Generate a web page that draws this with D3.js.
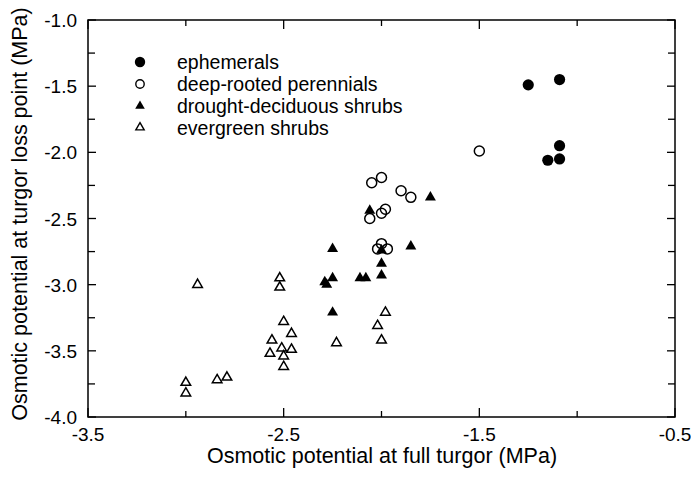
<!DOCTYPE html>
<html>
<head>
<meta charset="utf-8">
<script src="https://cdn.jsdelivr.net/npm/d3@7"></script>
<style>
  body { margin: 0; background: #fff; }
  text { font-family: "Liberation Sans", Arial, sans-serif; fill: #000; }
</style>
</head>
<body>
<div id="chart"></div>
<script>
// Series data (MPa): osmotic potential at full turgor (x) vs at turgor loss point (y)
const ephemeralsX = [-1.25, -1.09, -1.09, -1.09, -1.15];
const ephemeralsY = [-1.49, -1.45, -1.95, -2.05, -2.06];

const deepRootedX = [-1.50, -2.05, -2.00, -1.90, -1.85, -2.06, -2.00, -1.98, -2.00, -2.02, -1.97];
const deepRootedY = [-1.99, -2.23, -2.19, -2.29, -2.34, -2.50, -2.46, -2.43, -2.69, -2.73, -2.73];

const deciduousX = [-1.75, -2.06, -2.25, -2.00, -1.85, -2.00, -2.00, -2.11, -2.08, -2.29, -2.25, -2.28, -2.25];
const deciduousY = [-2.34, -2.44, -2.73, -2.74, -2.71, -2.84, -2.93, -2.95, -2.95, -2.98, -2.95, -3.00, -3.21];

const evergreenX = [-2.52, -2.52, -2.50, -2.46, -2.56, -2.51, -2.46, -2.57, -2.50, -2.50, -2.23, -1.98, -2.02, -2.00, -2.94, -3.00, -3.00, -2.84, -2.79];
const evergreenY = [-2.95, -3.02, -3.28, -3.37, -3.42, -3.48, -3.49, -3.52, -3.54, -3.62, -3.44, -3.21, -3.31, -3.42, -3.00, -3.74, -3.82, -3.72, -3.70];

const seriesNames = ["ephemerals", "deep-rooted perennials", "drought-deciduous shrubs", "evergreen shrubs"];

const xTicks = [-3.5, -3.0, -2.5, -2.0, -1.5, -1.0, -0.5];
const xLabels = [-3.5, -2.5, -1.5, -0.5];
const yTicks = d3.range(-4.0, -0.99, 0.25);
const yLabels = [-4.0, -3.5, -3.0, -2.5, -2.0, -1.5, -1.0];

const width = 691, height = 479;
const margin = { top: 20, right: 16, bottom: 62, left: 88 };
const innerW = width - margin.left - margin.right;
const innerH = height - margin.top - margin.bottom;

const svg = d3.select("#chart").append("svg")
    .attr("width", width)
    .attr("height", height);

const g = svg.append("g")
    .attr("transform", `translate(${margin.left},${margin.top})`);

const x = d3.scaleLinear().domain([-3.5, -0.5]).range([0, innerW]);
const y = d3.scaleLinear().domain([-4.0, -1.0]).range([innerH, 0]);

const isLabelX = v => xLabels.some(l => Math.abs(l - v) < 1e-6);
const isLabelY = v => yLabels.some(l => Math.abs(l - v) < 1e-6);

// Frame
g.append("rect")
    .attr("width", innerW)
    .attr("height", innerH)
    .attr("fill", "none")
    .attr("stroke", "#000")
    .attr("stroke-width", 1.5);

// Inward ticks on all four sides
const ticks = g.append("g").attr("stroke", "#000").attr("stroke-width", 1.3);
xTicks.forEach(v => {
    const len = isLabelX(v) ? 9 : 6;
    ticks.append("line").attr("x1", x(v)).attr("x2", x(v)).attr("y1", innerH).attr("y2", innerH - len);
    ticks.append("line").attr("x1", x(v)).attr("x2", x(v)).attr("y1", 0).attr("y2", len);
});
yTicks.forEach(v => {
    const len = isLabelY(v) ? 8 : 7;
    ticks.append("line").attr("x1", 0).attr("x2", len).attr("y1", y(v)).attr("y2", y(v));
    ticks.append("line").attr("x1", innerW).attr("x2", innerW - len).attr("y1", y(v)).attr("y2", y(v));
});

// Tick labels
g.selectAll(".xlab")
    .data(xLabels)
    .join("text")
    .attr("class", "xlab")
    .attr("x", d => x(d))
    .attr("y", innerH + 24)
    .attr("text-anchor", "middle")
    .style("font-size", "19px")
    .text(d => d3.format(".1f")(d).replace("−", "-"));

g.selectAll(".ylab")
    .data(yLabels)
    .join("text")
    .attr("class", "ylab")
    .attr("x", -11)
    .attr("y", d => y(d) + 7)
    .attr("text-anchor", "end")
    .style("font-size", "19px")
    .text(d => d3.format(".1f")(d).replace("−", "-"));

// Axis titles
svg.append("text")
    .attr("x", 382)
    .attr("y", 463)
    .attr("text-anchor", "middle")
    .style("font-size", "21.5px")
    .text("Osmotic potential at full turgor (MPa)");

svg.append("text")
    .attr("transform", "rotate(-90)")
    .attr("x", -214)
    .attr("y", 27)
    .attr("text-anchor", "middle")
    .style("font-size", "21.5px")
    .text("Osmotic potential at turgor loss point (MPa)");

// Marker helpers
const triFilled = d3.symbol().type(d3.symbolTriangle).size(52);
const triOpen = d3.symbol().type(d3.symbolTriangle).size(40);

function zip(xs, ys) { return xs.map((v, i) => ({ x: v, y: ys[i] })); }

const marks = g.append("g");

// evergreen shrubs: open triangles
marks.selectAll(".evergreen")
    .data(zip(evergreenX, evergreenY))
    .join("path")
    .attr("class", "evergreen")
    .attr("d", triOpen)
    .attr("transform", d => `translate(${x(d.x)},${y(d.y)})`)
    .attr("fill", "none")
    .attr("stroke", "#000")
    .attr("stroke-width", 1.5);

// drought-deciduous shrubs: filled triangles
marks.selectAll(".deciduous")
    .data(zip(deciduousX, deciduousY))
    .join("path")
    .attr("class", "deciduous")
    .attr("d", triFilled)
    .attr("transform", d => `translate(${x(d.x)},${y(d.y)})`)
    .attr("fill", "#000");

// deep-rooted perennials: open circles
marks.selectAll(".deep")
    .data(zip(deepRootedX, deepRootedY))
    .join("circle")
    .attr("class", "deep")
    .attr("cx", d => x(d.x))
    .attr("cy", d => y(d.y))
    .attr("r", 5)
    .attr("fill", "none")
    .attr("stroke", "#000")
    .attr("stroke-width", 1.5);

// ephemerals: filled circles
marks.selectAll(".eph")
    .data(zip(ephemeralsX, ephemeralsY))
    .join("circle")
    .attr("class", "eph")
    .attr("cx", d => x(d.x))
    .attr("cy", d => y(d.y))
    .attr("r", 5.6)
    .attr("fill", "#000");

// Legend
const legend = svg.append("g");
const rowY = [62, 84, 106, 127.5];
seriesNames.forEach((name, i) => {
    const cy = rowY[i];
    if (i === 0) {
        legend.append("circle").attr("cx", 140).attr("cy", cy).attr("r", 5.2).attr("fill", "#000");
    } else if (i === 1) {
        legend.append("circle").attr("cx", 140).attr("cy", cy).attr("r", 4.2)
            .attr("fill", "none").attr("stroke", "#000").attr("stroke-width", 1.4);
    } else if (i === 2) {
        legend.append("path").attr("d", d3.symbol().type(d3.symbolTriangle).size(40))
            .attr("transform", `translate(140,${cy})`).attr("fill", "#000");
    } else {
        legend.append("path").attr("d", d3.symbol().type(d3.symbolTriangle).size(30))
            .attr("transform", `translate(140,${cy})`)
            .attr("fill", "none").attr("stroke", "#000").attr("stroke-width", 1.4);
    }
    legend.append("text")
        .attr("x", 177)
        .attr("y", cy + 7)
        .style("font-size", "19.5px")
        .text(name);
});
</script>
</body>
</html>
